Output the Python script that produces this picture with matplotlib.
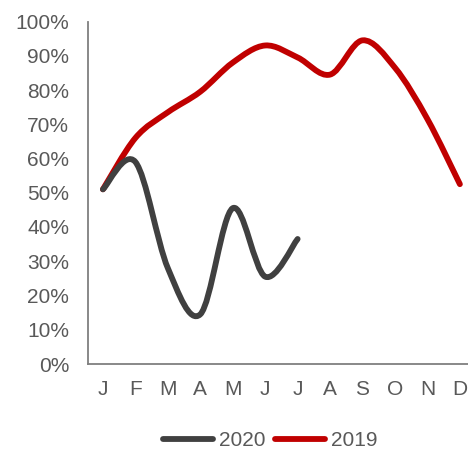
import matplotlib
matplotlib.use("Agg")
import matplotlib.pyplot as plt
from matplotlib.path import Path
from matplotlib.patches import PathPatch
from matplotlib.lines import Line2D
import numpy as np

months = ["J", "F", "M", "A", "M", "J", "J", "A", "S", "O", "N", "D"]
y2020 = [51, 59, 28, 14.5, 45.5, 25.5, 36.5]
y2019 = [51, 66, 73.5, 79.5, 88, 93, 89.5, 84.5, 94.5, 86.5, 71.5, 52.5]
yticks = [0, 10, 20, 30, 40, 50, 60, 70, 80, 90, 100]

plt.rcParams['font.family'] = ['Liberation Sans', 'DejaVu Sans']

fig = plt.figure(figsize=(4.68, 4.54), dpi=100)
ax = fig.add_axes([88/468, 1 - 364/454, (468 - 88)/468, (364 - 21.5)/454])


def smooth_path(ys):
    xs = np.arange(len(ys), dtype=float)
    pts = np.column_stack([xs, np.asarray(ys, dtype=float)])
    ext = np.vstack([pts[0], pts, pts[-1]])
    verts = [pts[0]]
    codes = [Path.MOVETO]
    for i in range(len(pts) - 1):
        p0, p1, p2, p3 = ext[i], ext[i + 1], ext[i + 2], ext[i + 3]
        c1 = p1 + (p2 - p0) / 6.0
        c2 = p2 - (p3 - p1) / 6.0
        verts += [c1, c2, p2]
        codes += [Path.CURVE4] * 3
    return Path(verts, codes)


lw = 4.2
colors = {"2020": "#404040", "2019": "#C00000"}
for name, ys in [("2019", y2019), ("2020", y2020)]:
    patch = PathPatch(smooth_path(ys), facecolor="none", edgecolor=colors[name],
                      lw=lw, capstyle="round", joinstyle="round", zorder=3 if name == "2020" else 2)
    ax.add_patch(patch)

ax.set_xlim(-0.46, 11.25)
ax.set_ylim(0, 100)
ax.set_xticks(range(len(months)))
ax.set_xticklabels(months)
ax.set_yticks(yticks)
ax.set_yticklabels([f"{v}%" for v in yticks])
ax.tick_params(length=0, labelsize=15, colors="#595959")
ax.tick_params(axis="y", pad=13.5)
ax.tick_params(axis="x", pad=11.5)
for s in ["top", "right"]:
    ax.spines[s].set_visible(False)
for s in ["left", "bottom"]:
    ax.spines[s].set_color("#7f7f7f")
    ax.spines[s].set_linewidth(1.3)

handles = [Line2D([], [], color=colors["2020"], lw=lw, solid_capstyle="round"),
           Line2D([], [], color=colors["2019"], lw=lw, solid_capstyle="round")]
leg = fig.legend(handles, ["2020", "2019"], loc="center", bbox_to_anchor=(270/468, 1 - 441/454),
                 ncol=2, frameon=False, fontsize=15, handlelength=2.4, handletextpad=0.3,
                 columnspacing=0.45, borderpad=0)
for t in leg.get_texts():
    t.set_color("#595959")

fig.savefig("out.png", dpi=100)
